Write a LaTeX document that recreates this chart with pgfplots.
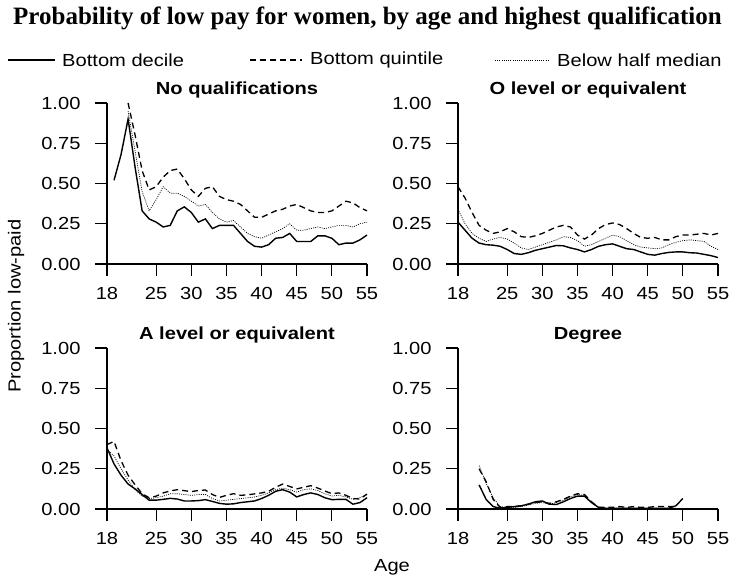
\documentclass[border=0pt]{standalone}
\usepackage{pgfplots}
\pgfplotsset{compat=1.18}
\usepackage{pgfplotstable}
\usepackage{fontspec}
\setmainfont{Liberation Sans}[FakeStretch=1.15]
\newfontfamily\titlefont{Liberation Serif}

\pgfplotstableread{
age dec quin half
19 0.52 nan nan
20 0.68 nan nan
21 0.90 1.00 0.95
22 0.60 0.80 0.70
23 0.33 0.58 0.45
24 0.28 0.46 0.33
25 0.26 0.48 0.40
26 0.23 0.54 0.48
27 0.24 0.58 0.44
28 0.33 0.59 0.44
29 0.355 0.53 0.42
30 0.32 0.46 0.39
31 0.26 0.42 0.36
32 0.28 0.47 0.37
33 0.22 0.48 0.32
34 0.24 0.42 0.28
35 0.24 0.40 0.26
36 0.24 0.39 0.27
37 0.19 0.37 0.23
38 0.14 0.33 0.19
39 0.11 0.29 0.17
40 0.105 0.29 0.16
41 0.12 0.31 0.18
42 0.16 0.33 0.20
43 0.165 0.34 0.22
44 0.19 0.36 0.25
45 0.14 0.37 0.21
46 0.14 0.35 0.21
47 0.14 0.33 0.22
48 0.175 0.32 0.23
49 0.175 0.32 0.22
50 0.16 0.33 0.23
51 0.12 0.36 0.24
52 0.13 0.39 0.24
53 0.13 0.38 0.23
54 0.15 0.35 0.25
55 0.18 0.33 0.26
}\noqual

\pgfplotstableread{
age dec quin half
18 0.26 0.48 0.34
19 0.21 0.41 0.25
20 0.16 0.32 0.19
21 0.13 0.24 0.16
22 0.12 0.21 0.14
23 0.117 0.19 0.155
24 0.11 0.20 0.165
25 0.09 0.22 0.155
26 0.065 0.20 0.13
27 0.06 0.17 0.10
28 0.07 0.165 0.09
29 0.085 0.175 0.105
30 0.095 0.19 0.12
31 0.105 0.21 0.135
32 0.115 0.23 0.15
33 0.113 0.24 0.17
34 0.10 0.23 0.165
35 0.09 0.18 0.145
36 0.075 0.155 0.11
37 0.09 0.18 0.12
38 0.11 0.22 0.14
39 0.12 0.245 0.16
40 0.125 0.255 0.18
41 0.11 0.245 0.17
42 0.095 0.22 0.145
43 0.09 0.19 0.12
44 0.075 0.165 0.105
45 0.06 0.16 0.10
46 0.055 0.165 0.095
47 0.065 0.15 0.10
48 0.072 0.15 0.12
49 0.075 0.17 0.135
50 0.075 0.18 0.145
51 0.07 0.18 0.15
52 0.068 0.185 0.145
53 0.06 0.19 0.14
54 0.052 0.18 0.11
55 0.04 0.19 0.09
}\olevel

\pgfplotstableread{
age dec quin half
18 0.38 0.40 0.37
19 0.28 0.42 0.33
20 0.21 0.30 0.25
21 0.155 0.21 0.18
22 0.125 0.15 0.12
23 0.09 0.095 0.08
24 0.055 0.07 0.065
25 0.055 0.08 0.07
26 0.06 0.10 0.08
27 0.066 0.112 0.095
28 0.062 0.12 0.095
29 0.05 0.114 0.09
30 0.05 0.108 0.085
31 0.052 0.115 0.09
32 0.058 0.118 0.09
33 0.047 0.09 0.065
34 0.035 0.072 0.05
35 0.03 0.085 0.055
36 0.032 0.095 0.06
37 0.04 0.085 0.065
38 0.045 0.088 0.07
39 0.05 0.094 0.075
40 0.065 0.10 0.085
41 0.085 0.11 0.10
42 0.11 0.135 0.12
43 0.12 0.155 0.13
44 0.105 0.14 0.12
45 0.075 0.125 0.105
46 0.09 0.135 0.12
47 0.10 0.145 0.125
48 0.09 0.13 0.115
49 0.07 0.112 0.095
50 0.058 0.095 0.08
51 0.06 0.10 0.085
52 0.06 0.085 0.075
53 0.03 0.065 0.06
54 0.04 0.062 0.07
55 0.07 0.093 0.09
}\alevel

\pgfplotstableread{
age dec quin half
21 0.15 0.25 0.27
22 0.06 0.17 0.16
23 0.015 0.06 0.07
24 0.005 0.01 0.015
25 0.01 0.015 0.01
26 0.015 0.015 0.01
27 0.02 0.02 0.015
28 0.03 0.03 0.025
29 0.045 0.04 0.035
30 0.05 0.045 0.04
31 0.03 0.035 0.03
32 0.028 0.045 0.04
33 0.045 0.06 0.055
34 0.065 0.08 0.075
35 0.08 0.095 0.09
36 0.08 0.09 0.085
37 0.04 0.045 0.04
38 0.01 0.01 0.01
39 0.005 0.01 0.005
40 0.005 0.01 0.005
41 0.005 0.015 0.005
42 0.005 0.01 0.005
43 0.005 0.015 0.005
44 0.005 0.01 0.005
45 0.005 0.01 0.005
46 0.005 0.015 0.005
47 0.005 0.015 0.005
48 0.005 0.015 0.005
49 0.02 0.015 0.005
50 0.065 nan nan
}\degree

\tikzset{
  dec/.style={black, line width=1.4pt},
  quin/.style={black, line width=1.3pt, dash pattern=on 6pt off 4pt},
  half/.style={black, line width=0.7pt, dash pattern=on 1pt off 1.2pt},
}
\newcommand{\fs}{\fontsize{17.5}{20}\selectfont}
\pgfplotsset{
  panel/.style={
    anchor=south west,
    scale only axis,
    width=260pt, height=161pt,
    xmin=18, xmax=55, ymin=0, ymax=1,
    axis x line*=bottom, axis y line*=left,
    axis line style={-, line width=1.2pt},
    xtick={18,25,30,35,40,45,50,55},
    ytick={0,0.25,0.5,0.75,1},
    yticklabel style={/pgf/number format/fixed, /pgf/number format/fixed zerofill, /pgf/number format/precision=2},
    /pgf/number format/assume math mode=true,
    tick align=outside,
    major tick length=12pt,
    every tick/.style={black, line width=1.2pt},
    tick label style={font=\fs},
    xticklabel style={yshift=-8pt},
    yticklabel style={xshift=-11pt},
    title style={at={(0.5,1)}, anchor=base, yshift=3pt, font=\fs\bfseries},
    clip=false,
  },
}

\begin{document}
\begin{tikzpicture}
\path[use as bounding box] (0,0) rectangle (734pt,-579pt);

\node[font=\titlefont\bfseries\fontsize{25}{28}\selectfont] at (367.5pt,-18pt) {Probability of low pay for women, by age and highest qualification};

% legend
\draw[dec] (8pt,-60pt) -- (55pt,-60pt);
\node[anchor=west, font=\fs, inner sep=0pt] at (62pt,-60pt) {Bottom decile};
\draw[quin] (250pt,-60pt) -- (302pt,-60pt);
\node[anchor=west, font=\fs, inner sep=0pt] at (310pt,-60pt) {Bottom quintile};
\draw[half] (495pt,-60pt) -- (548pt,-60pt);
\node[anchor=west, font=\fs, inner sep=0pt] at (557pt,-60pt) {Below half median};

\begin{axis}[panel, at={(107pt,-264pt)}, title={No qualifications}]
\addplot[dec] table[x=age,y=dec] {\noqual};
\addplot[quin] table[x=age,y=quin] {\noqual};
\addplot[half] table[x=age,y=half] {\noqual};
\end{axis}

\begin{axis}[panel, at={(458pt,-264pt)}, title={O level or equivalent}]
\addplot[dec] table[x=age,y=dec] {\olevel};
\addplot[quin] table[x=age,y=quin] {\olevel};
\addplot[half] table[x=age,y=half] {\olevel};
\end{axis}

\begin{axis}[panel, at={(107pt,-509pt)}, title={A level or equivalent}]
\addplot[dec] table[x=age,y=dec] {\alevel};
\addplot[quin] table[x=age,y=quin] {\alevel};
\addplot[half] table[x=age,y=half] {\alevel};
\end{axis}

\begin{axis}[panel, at={(458pt,-509pt)}, title={Degree}]
\addplot[dec] table[x=age,y=dec] {\degree};
\addplot[quin] table[x=age,y=quin] {\degree};
\addplot[half] table[x=age,y=half] {\degree};
\end{axis}

\node[rotate=90, font=\fs] at (16pt,-306pt) {Proportion low-paid};
\node[font=\fs] at (392pt,-567pt) {Age};
\end{tikzpicture}
\end{document}
